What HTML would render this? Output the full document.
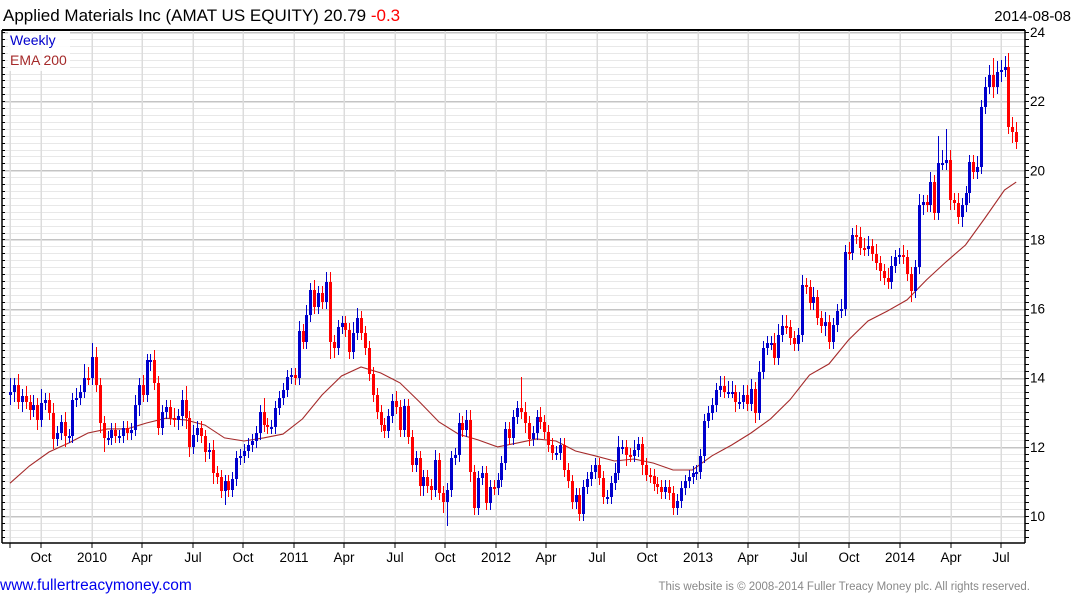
<!DOCTYPE html>
<html><head><meta charset="utf-8"><style>
html,body{margin:0;padding:0;background:#fff;}
svg{display:block;font-family:"Liberation Sans",Arial,sans-serif;}
</style></head><body>
<svg id="chart" width="1075" height="600" viewBox="0 0 1075 600">
<text x="3" y="21" font-size="17" fill="#000">Applied Materials Inc (AMAT US EQUITY) 20.79 <tspan fill="#ff0000">-0.3</tspan></text>
<text x="1071" y="21" font-size="15" fill="#000" text-anchor="end">2014-08-08</text>
<g id="grid" shape-rendering="crispEdges"></g>
<g id="ema"></g>
<g id="bars" shape-rendering="crispEdges"></g>
<g id="axes"></g>
<rect x="8" y="31" width="62" height="40" fill="#fff" opacity="0.85"/>
<text x="10" y="45" font-size="14" fill="#0000cc">Weekly</text>
<text x="10" y="65" font-size="14" fill="#a52a2a">EMA 200</text>
<text x="0" y="590" font-size="15.5" fill="#0000ee">www.fullertreacymoney.com</text>
<text x="1030" y="590" font-size="11.5" fill="#888" text-anchor="end">This website is © 2008-2014 Fuller Treacy Money plc. All rights reserved.</text>
</svg>
<script>
const closes=[13.6,13.8,13.3,13.47,13.3,13.07,13.2,12.78,13.27,13.35,
12.98,12.23,12.4,12.72,12.3,12.32,13.35,13.4,13.6,14.0,
13.99,14.6,13.79,12.69,12.26,12.26,12.5,12.3,12.3,12.55,
12.4,12.5,13.2,13.79,13.5,14.5,14.5,13.85,12.55,13.0,
13.15,12.83,12.78,12.9,13.35,12.83,12.0,12.34,12.55,12.3,
11.85,11.9,11.24,11.13,10.72,11.0,10.75,11.07,11.68,11.74,
11.88,12.05,12.17,12.4,13.0,12.63,12.57,12.57,13.12,13.41,
13.64,14.02,14.08,13.99,15.35,15.03,15.8,16.54,16.05,16.45,
16.19,16.77,15.03,14.86,15.47,15.58,15.38,14.74,15.3,15.73,
15.3,14.86,14.1,13.5,13.0,12.63,12.46,12.9,13.33,13.15,
12.49,13.18,12.29,11.48,11.68,10.87,11.13,10.87,10.75,11.62,
10.67,10.4,10.75,11.68,11.76,12.69,12.49,12.78,11.27,10.23,
11.1,11.24,10.38,10.84,10.81,11.04,11.53,12.52,12.26,12.86,
13.12,13.0,12.69,12.23,12.4,12.86,12.72,12.43,12.05,11.82,
11.82,12.05,11.33,11.0,10.4,10.6,10.06,10.84,11.07,11.27,
11.48,11.1,10.55,10.55,10.95,11.24,12.0,12.0,11.76,11.75,
11.9,12.08,11.48,11.2,11.16,10.93,10.84,10.7,10.84,10.67,
10.23,10.43,10.8,11.0,11.13,11.24,11.27,11.73,12.75,12.98,
13.21,13.64,13.76,13.6,13.6,13.6,13.3,13.3,13.5,13.24,
13.67,12.98,14.17,14.86,15.0,15.0,14.57,15.24,15.5,15.47,
15.15,14.98,15.24,16.68,16.62,16.16,16.33,15.73,15.5,15.61,
15.03,15.53,15.93,15.99,17.64,17.6,18.13,18.07,17.75,17.72,
17.81,17.58,17.32,17.1,16.88,16.77,17.23,17.49,17.55,17.5,
17.0,16.5,17.2,19.0,19.08,19.0,19.66,18.76,20.2,20.2,
20.3,19.14,19.05,18.65,19.0,19.34,20.24,19.95,20.1,21.83,
22.4,22.76,22.4,22.85,22.9,23.0,21.25,21.1,20.82];
const firstOpen=13.5;
const wickUp=[4,2,3,2,3,2,3,2,4,2, 2,3,2,2,3,2,2,3,2,4, 3,4,3,2,2,2,2,2,2,2,
2,2,3,2,3,2,2,3,2,2, 2,2,3,2,3,4,2,3,2,2, 2,2,3,2,2,2,2,2,2,2,
2,2,2,2,2,4,2,2,2,2, 2,2,2,2,3,2,3,2,3,2, 2,3,3,2,2,2,2,2,3,3,
2,2,2,2,2,2,2,2,2,3, 2,2,2,2,2,2,2,2,2,3, 2,2,2,2,2,3,2,3,3,2,
2,2,2,2,2,2,2,2,2,2, 2,9,3,2,2,2,3,2,2,2, 2,2,2,2,2,2,2,2,2,2,
2,2,2,2,2,3,3,2,2,2, 3,2,2,2,2,2,2,2,2,2, 2,2,2,2,2,2,2,2,2,2,
2,2,3,3,3,3,2,3,3,3, 3,2,3,2,2,2,3,3,3,3, 2,2,2,3,2,2,3,2,2,3,
2,2,2,3,2,3,2,3,3,3, 3,2,3,2,2,3,3,2,2,3, 2,2,2,3,2,2,3,2,8,4,
9,3,2,3,2,2,2,2,3,2, 3,3,5,3,3,3,4,3,3];
const wickDown=[3,3,2,3,2,3,2,3,2,2, 2,3,2,2,3,2,2,2,2,2, 2,2,2,3,4,2,2,2,2,2,
2,2,2,3,2,2,3,2,2,2, 2,2,2,3,3,3,3,2,2,2, 3,2,3,2,2,4,2,2,2,2,
2,2,2,2,2,2,2,2,2,2, 2,2,2,2,2,2,2,2,2,2, 2,2,5,3,2,2,2,2,2,2,
2,2,2,2,2,2,2,2,2,2, 2,2,2,2,2,3,3,2,3,2, 2,3,7,2,2,2,2,2,3,2,
2,2,2,2,2,2,2,2,2,2, 2,2,3,2,2,2,2,2,2,2, 2,2,2,2,2,2,2,2,2,2,
2,2,2,2,2,2,2,2,3,2, 2,2,3,2,2,2,2,2,2,2, 2,2,2,2,2,2,2,2,2,2,
2,2,2,2,2,2,3,2,2,2, 2,3,2,2,2,2,2,2,2,2, 2,2,2,2,2,2,2,2,2,3,
2,2,2,2,2,2,2,2,2,2, 2,2,2,3,2,2,2,2,2,2, 2,3,2,2,3,2,2,2,2,2,
2,3,2,2,3,2,3,2,2,2, 2,2,3,2,3,2,2,3,2,2, 3,3,2,2,2,3,2,3,3];
const emaStep=5;
const emaValues=[10.95,11.45,11.85,12.11,12.4,12.52,12.52,12.69,12.83,12.78,
12.63,12.26,12.17,12.26,12.37,12.81,13.5,14.05,14.31,14.14,
13.85,13.3,12.72,12.37,12.2,12.0,12.11,12.23,12.17,11.88,
11.74,11.59,11.65,11.53,11.33,11.33,11.74,12.05,12.4,12.81,
13.36,14.08,14.4,15.09,15.64,15.93,16.25,16.83,17.35,17.84,
18.62,19.43];
const emaLast=19.66;
const yTicks=[10,12,14,16,18,20,22,24];
const xTickLabels=["Oct","2010","Apr","Jul","Oct","2011","Apr","Jul","Oct","2012","Apr","Jul","Oct","2013","Apr","Jul","Oct","2014","Apr","Jul"];

const NS="http://www.w3.org/2000/svg";
const L=2,R=1025,T=30,B=543;
function yS(p){return 516-(p-10)*34.57;}
function xS(i){return 10+i*3.9;}
function qx(q){return 41+q*50.53;}
function mk(tag,attrs,parent){const e=document.createElementNS(NS,tag);for(const k in attrs)e.setAttribute(k,attrs[k]);parent.appendChild(e);return e;}
const grid=document.getElementById('grid'),axes=document.getElementById('axes'),bars=document.getElementById('bars'),emaG=document.getElementById('ema');
for(let k=46;k<=120;k++){const p=k*0.2;const y=Math.round(yS(p))+0.5;if(y<T||y>B)continue;
 const major=(k%10===0);
 const ln=mk('line',{x1:L,x2:R,y1:y,y2:y,stroke:major?'#c4c4c4':'#e8e8e8','stroke-width':major?1.5:1},grid);
 
 
 const t=mk('line',{x1:R,x2:R+4,y1:y,y2:y,stroke:'#000','stroke-width':1},axes);
 
 
 const t2=mk('line',{x1:L,x2:L+3,y1:y,y2:y,stroke:'#000','stroke-width':1},axes);
 
 
}
{const v=mk('line',{x1:10,x2:10,y1:T,y2:B,stroke:'#dcdcdc','stroke-width':1.5},grid);
 
 
 const tk=mk('line',{x1:10,x2:10,y1:B,y2:B+5,stroke:'#000'},axes);
 
 }
xTickLabels.forEach((lab,q)=>{const x=Math.round(qx(q));
 const v=mk('line',{x1:x,x2:x,y1:T,y2:B,stroke:'#dcdcdc','stroke-width':1.5},grid);
 
 
 const tk=mk('line',{x1:x,x2:x,y1:B,y2:B+5,stroke:'#000'},axes);
 
 
 const t=mk('text',{x:x,y:562,'font-size':13.5,'text-anchor':'middle',fill:'#000'},axes);
 t.textContent=lab;
 
 
});
yTicks.forEach(p=>{const t=mk('text',{x:1030,y:yS(p)+5,'font-size':13.5,fill:'#000'},axes);
 t.textContent=p;
 
 });
{const a=mk('line',{x1:L,x2:R,y1:T,y2:T,stroke:'#000','stroke-width':2},axes);
 const b=mk('line',{x1:L,x2:R,y1:B,y2:B,stroke:'#000','stroke-width':1.5},axes);
 const c=mk('line',{x1:R,x2:R,y1:T,y2:B,stroke:'#000','stroke-width':1.5},axes);
 const d=mk('line',{x1:L,x2:L,y1:T,y2:B,stroke:'#000','stroke-width':1.5},axes);}
{let pts=emaValues.map((v,k)=>xS(k*emaStep).toFixed(1)+','+yS(v).toFixed(1));
 pts.push(xS(closes.length-1).toFixed(1)+','+yS(emaLast).toFixed(1));
 const pl=mk('polyline',{points:pts.join(' '),fill:'none',stroke:'#a52a2a','stroke-width':1.1},emaG);
 
 }
closes.forEach((c,i)=>{const o=i===0?firstOpen:closes[i-1];
 const up=c>=o;const col=up?'#0000cc':'#ff0000';
 const hi=Math.max(o,c)+wickUp[i]/10, lo=Math.min(o,c)-wickDown[i]/10;
 const x=Math.round(xS(i));
 const g=mk('g',{},bars);
 
 
 mk('rect',{x:x,y:Math.round(yS(hi)),width:1,height:Math.max(1,Math.round(yS(lo))-Math.round(yS(hi))),fill:col},g);
 const top=Math.round(yS(Math.max(o,c))),bot=Math.round(yS(Math.min(o,c)));
 mk('rect',{x:x-1,y:top,width:3,height:Math.max(2,bot-top),fill:col},g);
});
</script>
</body></html>
